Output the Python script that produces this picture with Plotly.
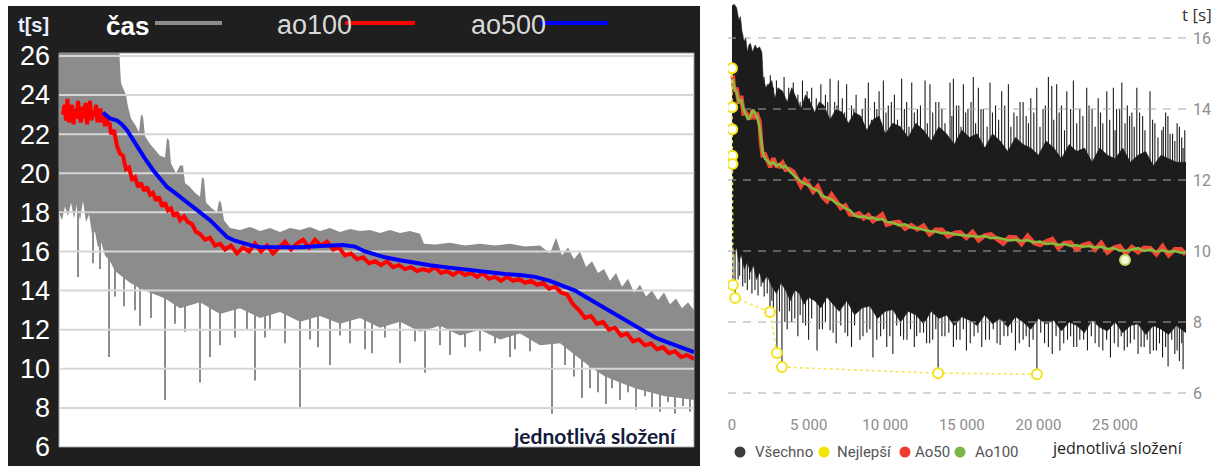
import numpy as np
import plotly.graph_objects as go

W, H = 1224, 466

# ---------------- LEFT CHART DATA (x = solve index) ----------------
L_x_range = [0, 6350]
L_yticks = [6, 8, 10, 12, 14, 16, 18, 20, 22, 24, 26]

L_x_hi = [0, 600, 620, 670, 690, 720, 770, 800, 820, 840, 860, 910, 960, 1010, 1060, 1080, 1100, 1120, 1170, 1210,
          1240, 1260, 1310, 1360, 1410, 1430, 1450, 1470, 1530, 1580, 1600, 1620, 1650, 1710, 1810, 1910, 2010, 2110,
          2210, 2310, 2410, 2510, 2610, 2710, 2810, 2910, 3010, 3110, 3210, 3310, 3410, 3510, 3610, 3650, 3760, 3910,
          4060, 4210, 4360, 4510, 4660, 4810, 4910, 4970, 5030, 5090, 5150, 5210, 5270, 5330, 5390, 5450, 5510, 5570,
          5630, 5690, 5750, 5810, 5870, 5930, 5990, 6050, 6110, 6170, 6230, 6290, 6350]
L_y_hi = [26.5, 26.5, 24.6, 24.0, 23.4, 22.8, 22.4, 22.1, 23.0, 22.9, 21.9, 21.5, 21.2, 20.9, 20.8, 21.8, 21.7, 20.5,
          20.0, 20.4, 20.4, 19.5, 19.3, 19.0, 18.8, 19.8, 19.7, 18.5, 18.2, 18.0, 18.6, 18.5, 17.6, 17.2, 17.1, 17.25,
          17.05, 17.2, 17.0, 17.2, 17.1, 17.25, 17.05, 17.2, 17.0, 17.15, 17.05, 17.1, 16.95, 17.1, 16.95, 17.05, 16.9,
          16.4, 16.35, 16.45, 16.3, 16.4, 16.3, 16.4, 16.25, 16.3, 15.9, 16.7, 15.8, 16.2, 15.6, 16.0, 15.2, 15.5, 14.9,
          15.1, 14.5, 14.9, 14.2, 14.6, 13.9, 14.3, 13.7, 14.0, 13.5, 13.9, 13.3, 13.6, 13.1, 13.4, 13.0]
L_x_lo = [0, 30, 60, 90, 120, 150, 180, 210, 240, 270, 300, 330, 360, 390, 420, 460, 510, 560, 610, 710, 810, 910,
          1060, 1210, 1410, 1610, 1810, 2010, 2210, 2410, 2610, 2810, 3010, 3210, 3410, 3610, 3810, 4010, 4210, 4410,
          4610, 4810, 5010, 5160, 5310, 5460, 5610, 5760, 5910, 6060, 6210, 6350]
L_y_lo = [18.0, 17.6, 18.3, 17.8, 18.5, 17.7, 18.4, 17.6, 18.6, 17.5, 17.9, 16.9, 17.0, 16.2, 16.5, 15.8, 15.5, 15.0,
          14.8, 14.4, 14.1, 13.9, 13.6, 13.1, 13.4, 12.8, 13.1, 12.6, 12.9, 12.4, 12.7, 12.3, 12.6, 12.1, 12.4, 11.9,
          12.2, 11.7, 12.0, 11.5, 11.8, 11.2, 11.3, 10.7, 10.1, 9.6, 9.3, 9.0, 8.8, 8.6, 8.5, 8.4]
L_spk_x = [190, 340, 410, 500, 560, 650, 760, 810, 920, 1060, 1160, 1260, 1410, 1510, 1610, 1760, 1880, 1960, 2060,
           2110, 2260, 2410, 2510, 2590, 2710, 2810, 2910, 3060, 3130, 3260, 3410, 3560, 3660, 3810, 3910, 4060, 4210,
           4360, 4510, 4560, 4710, 4930, 5060, 5150, 5230, 5310, 5390, 5470, 5530, 5610, 5690, 5770, 5860, 5930, 6010,
           6090, 6160, 6240, 6310]
L_spk_y = [14.7, 15.4, 15.1, 10.6, 13.7, 13.2, 13.0, 12.2, 12.6, 8.4, 12.3, 11.9, 9.3, 10.6, 11.2, 11.6, 12.0, 9.4,
           11.6, 12.0, 11.3, 8.0, 11.5, 11.1, 10.2, 11.7, 11.3, 11.0, 10.8, 11.6, 10.3, 11.4, 9.8, 11.2, 10.7, 11.1,
           10.9, 11.3, 10.6, 11.0, 10.9, 7.7, 10.2, 9.6, 8.5, 9.0, 8.8, 8.2, 9.0, 8.4, 8.8, 7.9, 8.6, 8.0, 7.8, 8.3, 7.7,
           8.1, 7.8]
L_ao100_x = [40, 55, 70, 85, 100, 115, 130, 145, 160, 175, 190, 205, 220, 235, 250, 265, 280, 295, 310, 325, 340,
             355, 370, 385, 400, 415, 430, 445, 460, 475, 490, 505, 520, 550, 580, 610, 640,
             670, 700, 730, 760, 790, 820, 850, 880, 910, 940, 970, 1000, 1030, 1060, 1090, 1120, 1150, 1180, 1210,
             1250, 1290, 1330, 1370, 1410, 1460, 1510, 1560, 1610, 1660, 1720, 1780, 1840, 1900, 1960, 2020, 2080,
             2140, 2200, 2260, 2320, 2380, 2440, 2500, 2560, 2620, 2680, 2740, 2800, 2860, 2920, 2980, 3040, 3100,
             3160, 3220, 3280, 3340, 3400, 3460, 3520, 3580, 3640, 3700, 3760, 3820, 3880, 3940, 4000, 4060, 4120,
             4180, 4240, 4300, 4360, 4420, 4480, 4540, 4600, 4660, 4720, 4780, 4840, 4900, 4960, 5020, 5080, 5140,
             5200, 5260, 5320, 5380, 5440, 5500, 5560, 5620, 5680, 5740, 5800, 5860, 5920, 5980, 6040, 6100, 6160,
             6220, 6280, 6350]
L_ao100_y = [23.0, 23.5, 22.7, 23.8, 22.6, 23.2, 23.5, 22.5, 23.3, 22.8, 23.7, 22.9, 22.6, 23.4, 22.8, 23.6, 22.5,
             23.1, 23.7, 22.7, 23.2, 22.9, 23.5, 22.6, 23.0, 23.3, 22.6, 23.0, 22.4, 22.9, 22.5, 22.6, 22.0,
             22.2, 21.4, 21.0, 20.9, 20.2, 20.3, 19.7, 19.8, 19.3, 19.5, 19.1, 19.3, 18.9, 19.0, 18.6, 18.8, 18.3, 18.5,
             18.1, 18.2, 17.8, 18.0, 17.6, 17.8, 17.5, 17.4, 17.0, 16.9, 16.6, 16.7, 16.3, 16.4, 16.1, 16.3, 15.9, 16.2,
             16.0, 16.4, 16.0, 16.3, 15.9, 16.2, 16.5, 16.1, 16.4, 16.6, 16.2, 16.6, 16.3, 16.5, 16.1, 16.2, 15.8, 15.9,
             15.6, 15.7, 15.4, 15.5, 15.3, 15.5, 15.2, 15.3, 15.1, 15.2, 15.0, 15.1, 15.0, 15.2, 14.9, 15.0, 14.8, 15.0,
             14.8, 14.9, 14.7, 14.9, 14.6, 14.7, 14.5, 14.7, 14.5, 14.6, 14.4, 14.5, 14.3, 14.4, 14.1, 14.2, 13.9, 13.8,
             13.3, 13.0, 12.6, 12.7, 12.3, 12.4, 12.0, 12.1, 11.7, 11.8, 11.4, 11.5, 11.2, 11.3, 11.0, 11.1, 10.8, 10.9,
             10.6, 10.7, 10.5]
L_ao500_x = [440, 510, 580, 630, 680, 730, 780, 860, 940, 1010, 1080, 1160, 1240, 1340, 1410, 1510, 1590, 1680, 1760,
             1840, 1930, 2010, 2210, 2410, 2610, 2840, 2960, 3060, 3160, 3260, 3410, 3560, 3710, 3860, 4010, 4160,
             4310, 4460, 4610, 4760, 4910, 5060, 5160, 5260, 5360, 5460, 5560, 5660, 5760, 5860, 5960, 6060, 6160,
             6260, 6350]
L_ao500_y = [23.1, 22.8, 22.7, 22.5, 22.2, 21.8, 21.35, 20.75, 20.17, 19.7, 19.3, 19.0, 18.7, 18.28, 18.0, 17.6, 17.2,
             16.74, 16.55, 16.43, 16.3, 16.23, 16.2, 16.22, 16.28, 16.33, 16.25, 16.0, 15.85, 15.7, 15.55, 15.4, 15.3,
             15.2, 15.1, 15.05, 14.95, 14.85, 14.8, 14.7, 14.5, 14.2, 14.0, 13.7, 13.4, 13.1, 12.8, 12.5, 12.2, 11.9,
             11.6, 11.4, 11.2, 11.0, 10.85]

# ---------------- RIGHT CHART DATA ----------------
R_x_range = [-260, 29630]
R_xticks = [0, 5000, 10000, 15000, 20000, 25000]
R_xticktext = ["0", "5 000", "10 000", "15 000", "20 000", "25 000"]
R_yticks = [6, 8, 10, 12, 14, 16]

R_x_hi = [0, 150, 300, 450, 550, 650, 800, 900, 1000, 1100, 1200, 1350, 1500, 1650, 1800, 1950, 2030, 2200, 2400,
          2600, 2800, 3000, 3300, 3600, 3900, 4200, 4500, 4800, 5100, 5400, 5700, 6000, 6400, 6800, 7200, 7600, 8000,
          8400, 8800, 9200, 9600, 10000, 10500, 11000, 11500, 12000, 12500, 13000, 13500, 14000, 14500, 15000, 15500,
          16000, 16500, 17000, 17500, 18000, 18500, 19000, 19500, 20000, 20500, 21000, 21500, 22000, 22500, 23000,
          23500, 24000, 24500, 25000, 25500, 26000, 26500, 27000, 27500, 28000, 28500, 29000, 29630]
R_y_hi = [16.9, 16.95, 16.85, 16.5, 16.6, 16.2, 15.9, 16.0, 15.6, 15.8, 15.85, 15.6, 15.8, 15.7, 15.75, 15.6,
          14.9, 14.6, 14.7, 14.8, 14.3, 14.6, 14.5, 14.2, 14.6, 14.3, 14.0, 14.4, 14.2, 13.9, 14.2, 14.1, 13.7, 14.0,
          13.9, 13.6, 13.9, 13.8, 13.4, 13.7, 13.8, 13.3, 13.6, 13.5, 13.2, 13.6, 13.4, 13.1, 13.5, 13.3, 13.0, 13.4,
          13.2, 13.3, 12.9, 13.3, 13.1, 12.8, 13.2, 13.0, 12.9, 12.7, 13.1, 12.9, 12.6, 13.0, 12.8, 12.9, 12.5, 12.9,
          12.7, 12.6, 12.9, 12.5, 12.7, 12.8, 12.4, 12.7, 12.6, 12.5, 12.5]
R_x_lo = [0, 150, 300, 450, 600, 800, 1000, 1200, 1400, 1600, 1800, 2000, 2300, 2600, 2900, 3200, 3500, 3800, 4100,
          4400, 4700, 5000, 5400, 5800, 6200, 6600, 7000, 7500, 8000, 8500, 9000, 9500, 10000, 10500, 11000, 11500,
          12000, 12500, 13000, 13500, 14000, 14500, 15000, 15500, 16000, 16500, 17000, 17500, 18000, 18500, 19000,
          19500, 20000, 20500, 21000, 21500, 22000, 22500, 23000, 23500, 24000, 24500, 25000, 25500, 26000, 26500,
          27000, 27500, 28000, 28500, 29000, 29630]
R_y_lo = [10.3, 9.9, 10.1, 9.7, 9.9, 9.5, 9.7, 9.4, 9.6, 9.2, 9.4, 9.1,
          9.3, 9.0, 8.8, 9.1, 8.9, 8.6, 8.9, 8.8, 8.5, 8.7, 8.6, 8.4, 8.7, 8.5, 8.3, 8.6, 8.2, 8.4, 8.45, 8.1, 8.3,
          8.35, 8.0, 8.3, 8.2, 7.95, 8.3, 8.1, 8.2, 7.9, 8.15, 8.05, 7.9, 8.2, 7.95, 8.1, 7.85, 8.15, 8.0, 7.8, 8.1,
          7.95, 8.05, 7.75, 8.0, 7.9, 7.7, 8.05, 7.85, 7.75, 8.0, 7.7, 7.9, 7.95, 7.65, 7.9, 7.8, 7.65, 7.9, 7.7]
# tall single solves above the band
R_up_x = [2100, 2300, 2500, 2700, 2900, 3100, 3400, 3700, 4000, 4300, 4600, 4900, 5200, 5500, 5800, 6100, 6400, 6700,
          6940, 7200, 7480, 7800, 8100, 8500, 8900, 9300, 9600, 9880, 10200, 10600, 11070, 11400, 11730, 12100, 12600,
          12920, 13300, 13700, 14230, 14450, 14800, 15100, 15400, 15750, 16080, 16400, 16840, 17200, 17600, 18040,
          18400, 18800, 19200, 19500, 19890, 20300, 20650, 20870, 21190, 21500, 21850, 22280, 22700, 23150, 23500,
          23900, 24200, 24460, 24890, 25100, 25440, 25800, 26100, 26420, 26800, 27280, 27600, 28050, 28300, 28590,
          28900, 29200, 29440]
R_up_y = [14.9, 14.7, 14.95, 14.6, 14.8, 14.5, 14.9, 14.6, 14.75, 14.4, 14.8, 14.5, 14.6, 14.3, 14.7, 14.4, 14.85,
          14.2, 14.8, 14.3, 14.7, 14.1, 14.4, 14.0, 14.75, 14.2, 14.5, 14.8, 14.1, 14.4, 14.85, 14.2, 14.75, 14.0,
          14.8, 14.7, 14.2, 14.0, 14.75, 14.85, 14.1, 14.7, 14.0, 14.9, 14.6, 14.0, 14.75, 14.1, 14.5, 14.7, 13.9,
          14.2, 13.8, 14.3, 14.6, 14.0, 14.9, 14.65, 14.7, 14.1, 14.5, 14.8, 14.0, 14.6, 14.0, 14.3, 13.6, 14.5, 14.6,
          14.0, 14.75, 14.1, 13.9, 14.6, 13.8, 14.5, 13.6, 13.4, 13.9, 13.3, 13.1, 13.5, 12.9]
# medium single solves above the band
R_up2_x = [2250, 2550, 2850, 3250, 3550, 3850, 4150, 4450, 4750, 5050, 5350, 5650, 5950, 6250, 6550, 6850, 7350, 7650,
           7950, 8300, 8700, 9100, 9450, 9750, 10050, 10400, 10800, 11250, 11550, 11900, 12300, 12750, 13100, 13500,
           13900, 14350, 14650, 14950, 15250, 15600, 15900, 16250, 16650, 17000, 17400, 17800, 18200, 18600, 19000,
           19350, 19700, 20100, 20450, 21000, 21350, 21700, 22100, 22500, 22900, 23300, 23700, 24050, 24650, 25000,
           25300, 25650, 25950, 26250, 26600, 26950, 27450, 27800, 28150, 28450, 28750, 29050, 29350, 29550]
R_up2_y = [14.3, 14.4, 14.2, 14.5, 14.1, 14.3, 14.0, 14.2, 13.9, 14.3, 13.8, 14.1, 13.9, 14.2, 13.7, 14.1, 13.9, 13.6,
           14.0, 13.8, 14.3, 13.7, 14.0, 13.6, 13.9, 14.2, 13.7, 14.0, 13.5, 13.9, 14.1, 13.6, 13.9, 14.2, 13.6, 13.8,
           14.1, 13.5, 13.9, 14.2, 13.6, 14.0, 13.5, 13.9, 13.7, 14.1, 13.5, 13.8, 14.2, 13.6, 13.9, 13.5, 14.1, 13.7,
           13.9, 13.4, 14.0, 13.6, 13.8, 14.1, 13.5, 13.9, 13.7, 13.4, 14.0, 13.6, 13.8, 13.5, 13.9, 13.4, 13.7, 13.2,
           13.5, 13.8, 13.3, 13.6, 13.2, 13.4]
# fast single solves below the band
R_dn_x = [60, 200, 400, 700, 1000, 1300, 1700, 2100, 2480, 2700, 2930, 3260, 3600, 3900, 4300, 4630, 5000, 5550, 5900,
          6400, 6800, 7380, 7800, 8350, 8800, 9200, 9700, 10100, 10500, 11000, 11420, 11900, 12270, 12700, 13100,
          13450, 13900, 14450, 14880, 15300, 15800, 16300, 16800, 17500, 18000, 18500, 19000, 19400, 19900, 20400,
          20900, 21400, 21900, 22300, 22700, 23200, 23700, 24200, 24700, 25200, 25600, 26000, 26500, 26900, 27280,
          27700, 28100, 28460, 28900, 29200, 29440]
R_dn_y = [9.04, 8.68, 9.2, 9.0, 8.9, 8.8, 8.75, 8.72, 8.28, 8.4, 7.13, 6.73, 7.8, 8.0, 7.6, 7.97, 7.5, 7.2, 7.8, 7.77,
          7.4, 7.7, 7.3, 7.5, 7.7, 7.0, 7.6, 7.3, 7.1, 7.6, 7.5, 7.3, 7.7, 7.4, 7.5, 6.56, 7.6, 7.3, 7.5, 7.2, 7.6, 7.3,
          7.5, 7.35, 7.6, 7.2, 7.5, 7.3, 6.53, 7.4, 7.1, 7.2, 7.5, 7.3, 7.5, 7.2, 7.4, 7.2, 7.0, 7.3, 7.2, 7.4, 7.1,
          7.3, 7.1, 7.2, 7.0, 6.75, 7.1, 6.9, 6.67]
R_dn2_x = [500, 850, 1150, 1500, 1900, 2300, 2600, 3100, 3450, 3750, 4100, 4450, 4800, 5200, 5700, 6100, 6600, 7100,
           7550, 8000, 8550, 9000, 9450, 9900, 10300, 10750, 11200, 11650, 12050, 12500, 12900, 13300, 13700, 14150,
           14650, 15100, 15550, 16050, 16550, 17050, 17300, 17750, 18250, 18750, 19200, 19650, 20150, 20650, 21150,
           21650, 22100, 22500, 22950, 23450, 23950, 24450, 24950, 25400, 25800, 26250, 26700, 27100, 27500, 27900,
           28300, 28700, 29050, 29350]
R_dn2_y = [9.3, 9.1, 9.2, 8.9, 9.0, 8.8, 8.6, 8.3, 8.0, 8.3, 8.1, 8.2, 7.9, 8.1, 7.8, 8.0, 7.7, 7.9, 7.6, 7.9, 7.6,
           7.8, 7.5, 7.8, 7.6, 7.9, 7.5, 7.8, 7.6, 7.7, 7.4, 7.8, 7.6, 7.7, 7.5, 7.8, 7.4, 7.7, 7.5, 7.8, 7.4, 7.6, 7.7,
           7.4, 7.6, 7.5, 7.7, 7.3, 7.6, 7.4, 7.6, 7.3, 7.5, 7.6, 7.3, 7.5, 7.4, 7.6, 7.3, 7.5, 7.3, 7.5, 7.2, 7.4, 7.3,
           7.5, 7.2, 7.4]
# personal bests (Nejlepší)
R_pb_x = [0, 8, 16, 24, 32, 60, 200, 2480, 2930, 3260, 13450, 19900]
R_pb_y = [15.15, 14.05, 13.43, 12.68, 12.45, 9.04, 8.68, 8.28, 7.13, 6.73, 6.56, 6.53]
# rolling averages
R_ao_x = [50, 150, 300, 450, 600, 750, 900, 1050, 1200, 1350, 1500, 1650, 1800, 1900, 2000, 2150, 2300, 2500, 2700,
          2900, 3100, 3300, 3500, 3750, 4000, 4250, 4500, 4750, 5000, 5300, 5600, 5900, 6200, 6500, 6800, 7100, 7400,
          7700, 8000, 8300, 8600, 8900, 9200, 9500, 9800, 10100, 10500, 10900, 11300, 11700, 12100, 12500, 12900,
          13300, 13700, 14100, 14500, 14900, 15300, 15700, 16100, 16500, 16900, 17300, 17700, 18100, 18500, 18900,
          19300, 19700, 20100, 20500, 20900, 21300, 21700, 22100, 22500, 22900, 23300, 23700, 24100, 24500, 24900,
          25300, 25700, 26100, 26500, 26900, 27300, 27700, 28100, 28500, 28900, 29300, 29600]
R_ao100 = [14.85, 14.6, 14.45, 14.2, 14.25, 14.0, 13.85, 13.7, 13.8, 13.95, 13.9, 13.75, 13.5, 13.1, 12.8, 12.6, 12.55,
           12.45, 12.5, 12.4, 12.45, 12.35, 12.4, 12.25, 12.15, 12.05, 11.95, 11.9, 11.85, 11.75, 11.7, 11.55, 11.5,
           11.45, 11.35, 11.3, 11.2, 11.15, 11.0, 10.95, 10.98, 10.92, 10.95, 10.88, 10.9, 10.82, 10.8, 10.72, 10.75,
           10.66, 10.64, 10.6, 10.56, 10.55, 10.5, 10.52, 10.47, 10.45, 10.44, 10.42, 10.4, 10.42, 10.36, 10.38, 10.33,
           10.3, 10.32, 10.28, 10.3, 10.25, 10.27, 10.2, 10.22, 10.17, 10.2, 10.14, 10.16, 10.12, 10.14, 10.1, 10.12,
           10.06, 10.08, 10.02, 10.0, 10.05, 10.08, 10.0, 10.04, 9.98, 10.02, 9.97, 10.0, 9.95, 9.96]
R_ao50 = [14.95, 14.50, 14.60, 14.15, 14.37, 13.88, 13.90, 13.80, 13.72, 13.97, 13.78, 13.83, 13.64, 13.04, 12.70,
          12.72, 12.59, 12.36, 12.61, 12.40, 12.38, 12.48, 12.29, 12.31, 12.24, 12.01, 11.83, 12.00, 11.88, 11.67,
          11.82, 11.53, 11.40, 11.59, 11.40, 11.21, 11.28, 11.03, 11.02, 11.06, 10.92, 11.01, 10.84, 10.92, 11.03,
          10.74, 10.80, 10.82, 10.63, 10.73, 10.61, 10.72, 10.47, 10.60, 10.60, 10.41, 10.50, 10.53, 10.37, 10.54,
          10.30, 10.44, 10.47, 10.33, 10.21, 10.39, 10.38, 10.20, 10.43, 10.23, 10.17, 10.27, 10.34, 10.08, 10.23,
          10.24, 10.04, 10.17, 10.22, 10.04, 10.23, 9.96, 10.09, 10.14, 9.92, 10.11, 9.97, 10.09, 10.08, 9.91, 10.14,
          9.88, 10.05, 10.05, 9.90]
R_best_ao_x = [25650]
R_best_ao_y = [9.75]


def spikes(xs, ys, env_x, env_y, offset):
    X, Y = [], []
    for sx, sy in zip(xs, ys):
        base = float(np.interp(sx, env_x, env_y)) + offset
        X += [sx, sx, None]
        Y += [base, sy, None]
    return X, Y


def hlines(vals, xr):
    X, Y = [], []
    for v in vals:
        X += [xr[0], xr[1], None]
        Y += [v, v, None]
    return X, Y


GRAY = "#8c8c8c"
BLACK = "#1c1c1c"

fig = go.Figure()

# ---- left traces ----
fig.add_trace(go.Scatter(x=L_x_hi + L_x_lo[::-1], y=L_y_hi + L_y_lo[::-1], fill="toself", fillcolor=GRAY,
                         mode="lines", line=dict(width=0, color=GRAY), xaxis="x", yaxis="y", hoverinfo="skip"))
sx, sy = spikes(L_spk_x, L_spk_y, L_x_lo, L_y_lo, 0.4)
fig.add_trace(go.Scatter(x=sx, y=sy, mode="lines", line=dict(width=2, color=GRAY), xaxis="x", yaxis="y",
                         hoverinfo="skip"))
gx, gy = hlines(L_yticks, L_x_range)
fig.add_trace(go.Scatter(x=gx, y=gy, mode="lines", line=dict(width=2, color="#d6d6d6"), xaxis="x", yaxis="y",
                         hoverinfo="skip"))
fig.add_trace(go.Scatter(x=L_ao100_x, y=L_ao100_y, mode="lines", line=dict(width=4, color="#ff0000"),
                         xaxis="x", yaxis="y", name="ao100"))
fig.add_trace(go.Scatter(x=L_ao500_x, y=L_ao500_y, mode="lines", line=dict(width=4, color="#0000ff"),
                         xaxis="x", yaxis="y", name="ao500"))

# ---- right traces ----
fig.add_trace(go.Scatter(x=R_x_hi + R_x_lo[::-1], y=R_y_hi + R_y_lo[::-1], fill="toself", fillcolor=BLACK,
                         mode="lines", line=dict(width=0.6, color=BLACK), xaxis="x2", yaxis="y2", hoverinfo="skip"))
ux, uy = spikes(R_up_x + R_up2_x, R_up_y + R_up2_y, R_x_hi, R_y_hi, -0.4)
fig.add_trace(go.Scatter(x=ux, y=uy, mode="lines", line=dict(width=1.1, color=BLACK), xaxis="x2", yaxis="y2",
                         hoverinfo="skip"))
dx, dy = spikes(R_dn_x + R_dn2_x, R_dn_y + R_dn2_y, R_x_lo, R_y_lo, 0.4)
fig.add_trace(go.Scatter(x=dx, y=dy, mode="lines", line=dict(width=1.1, color=BLACK), xaxis="x2", yaxis="y2",
                         hoverinfo="skip"))
gx2, gy2 = hlines(R_yticks, R_x_range)
fig.add_trace(go.Scatter(x=gx2, y=gy2, mode="lines", line=dict(width=1, color="#a8a8a8", dash="8px,7px"),
                         xaxis="x2", yaxis="y2", hoverinfo="skip"))
fig.add_trace(go.Scatter(x=R_ao_x, y=R_ao50, mode="lines", line=dict(width=4.5, color="#ef4636"),
                         xaxis="x2", yaxis="y2", name="Ao50"))
fig.add_trace(go.Scatter(x=R_ao_x, y=R_ao100, mode="lines", line=dict(width=2.5, color="#86bd3c"),
                         xaxis="x2", yaxis="y2", name="Ao100"))
fig.add_trace(go.Scatter(x=R_pb_x, y=R_pb_y, mode="lines+markers",
                         line=dict(width=1.5, color="#f2e64a", dash="dot"),
                         marker=dict(size=10, color="white", line=dict(width=2, color="#f2e31b")),
                         xaxis="x2", yaxis="y2", name="Nejlepší"))
fig.add_trace(go.Scatter(x=R_best_ao_x, y=R_best_ao_y, mode="markers",
                         marker=dict(size=10, color="#f4f7d6", line=dict(width=2, color="#c3d96a")),
                         xaxis="x2", yaxis="y2", hoverinfo="skip"))

# ---- layout ----
shapes = [
    dict(type="rect", xref="paper", yref="paper", x0=8 / W, x1=700 / W, y0=0, y1=460 / H,
         fillcolor="#1f1f1f", line=dict(width=0), layer="below"),
    dict(type="rect", xref="paper", yref="paper", x0=59 / W, x1=694 / W, y0=19 / H, y1=413 / H,
         fillcolor="white", line=dict(width=1, color="#9a9a9a"), layer="below"),
]
for x0, x1, col in [(155, 222, GRAY), (345, 415, "#ff0000"), (540, 608, "#0000ff")]:
    shapes.append(dict(type="line", xref="paper", yref="paper", x0=x0 / W, x1=x1 / W, y0=1 - 23 / H,
                       y1=1 - 23 / H, line=dict(width=4, color=col)))
legend_items = [(740, 753, "Všechno", "#3c3c3c"), (824, 835, "Nejlepší", "#f5e400"),
                (905, 913, "Ao50", "#ee3b2f"), (960, 973, "Ao100", "#7ab648")]
annotations = []
for cx, tx, txt, col in legend_items:
    shapes.append(dict(type="circle", xref="paper", yref="paper", xsizemode="pixel", ysizemode="pixel",
                       xanchor=cx / W, yanchor=1 - 452 / H, x0=-5.5, x1=5.5, y0=-5.5, y1=5.5,
                       fillcolor=col, line=dict(width=0)))
    annotations.append(dict(x=tx / W, y=1 - 452 / H, text=txt, xanchor="left",
                            font=dict(family="Roboto", size=15, color="#555555")))

annotations += [
    dict(x=33 / W, y=1 - 25 / H, text="<b>t[s]</b>", font=dict(family="Liberation Sans", size=20, color="#e8eeff")),
    dict(x=104 / W, y=1 - 26 / H, text="<b>čas</b>", xanchor="left",
         font=dict(family="Liberation Sans", size=26, color="white")),
    dict(x=275 / W, y=1 - 25 / H, text="ao100", xanchor="left",
         font=dict(family="Liberation Sans", size=27, color="#d9d9d9")),
    dict(x=469 / W, y=1 - 25 / H, text="ao500", xanchor="left",
         font=dict(family="Liberation Sans", size=27, color="#d9d9d9")),
    dict(x=679 / W, y=1 - 435 / H, text="<b>jednotlivá složení</b>", xanchor="right",
         font=dict(family="Lato", size=21, color="#141a3c")),
    dict(x=1197 / W, y=1 - 15 / H, text="t [s]", font=dict(family="Open Sans", size=17, color="#333333")),
    dict(x=1117 / W, y=1 - 448 / H, text="jednotlivá složení",
         font=dict(family="Open Sans", size=16, color="#222222")),
]
for a in annotations:
    a.setdefault("xref", "paper")
    a.setdefault("yref", "paper")
    a.setdefault("showarrow", False)
    a.setdefault("xanchor", "center")
    a.setdefault("yanchor", "middle")

fig.update_layout(
    width=W, height=H, autosize=False, margin=dict(l=0, r=0, t=0, b=0, pad=0, autoexpand=False),
    paper_bgcolor="white", plot_bgcolor="white", showlegend=False,
    shapes=shapes, annotations=annotations,
    xaxis=dict(domain=[59 / W, 694 / W], range=L_x_range, visible=False, anchor="y", automargin=False),
    yaxis=dict(domain=[19 / H, 413 / H], range=[6, 26.15], anchor="x", tickvals=L_yticks, automargin=False,
               showgrid=False, zeroline=False, showline=False, ticks="", ticklabelstandoff=8,
               tickfont=dict(family="Liberation Sans", size=27, color="white")),
    xaxis2=dict(domain=[728 / W, 1186 / W], range=R_x_range, anchor="y2", tickvals=R_xticks, automargin=False,
                ticktext=R_xticktext, showgrid=False, zeroline=False, showline=False, ticks="",
                ticklabelstandoff=16, tickfont=dict(family="Roboto", size=15, color="#8c8c8c")),
    yaxis2=dict(domain=[68 / H, 463 / H], range=[5.86, 16.986], anchor="x2", side="right", automargin=False,
                tickvals=R_yticks, showgrid=False, zeroline=False, showline=False, ticks="",
                ticklabelstandoff=6, tickfont=dict(family="Roboto", size=16, color="#8c8c8c")),
)

fig.write_html("out.html", config={"displayModeBar": False},
               post_script="document.body.style.margin='0';document.body.style.overflow='hidden';")
